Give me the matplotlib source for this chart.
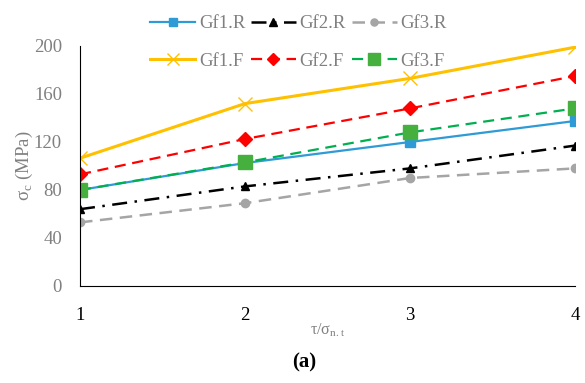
import matplotlib
matplotlib.use("Agg")
import matplotlib.pyplot as plt

## -- data
ratio = [1, 2, 3, 4]
gf1_r = [80, 102.5, 120, 137.5]
gf2_r = [64, 83, 98, 117]
gf3_r = [53, 69, 90, 98]
gf1_f = [106.5, 152, 173, 199]
gf2_f = [93, 122.5, 148, 175]
gf3_f = [80, 103, 128, 148]

plt.rcParams['font.family'] = ['Liberation Serif', 'DejaVu Serif']
grey = '#808080'

fig = plt.figure(figsize=(5.85, 3.83), dpi=100)
ax = fig.add_axes([0.1368, 0.2533, 0.8462, 0.6266])

l1, = ax.plot(ratio, gf1_r, color='#2E9BD6', lw=1.6, marker='s', ms=6.5, label='Gf1.R')
l2, = ax.plot(ratio, gf2_r, color='black', lw=1.8, ls=(0, (6, 3, 1, 3)), marker='^', ms=6, label='Gf2.R')
l3, = ax.plot(ratio, gf3_r, color='#A5A5A5', lw=1.8, ls=(0, (5, 3)), marker='o', ms=6, label='Gf3.R')
l4, = ax.plot(ratio, gf1_f, color='#FFC000', lw=2.2, marker='x', ms=10, mew=1.0, label='Gf1.F')
l5, = ax.plot(ratio, gf2_f, color='#FF0000', lw=1.6, ls=(0, (5, 3)), marker='D', ms=7.5, label='Gf2.F')
l6, = ax.plot(ratio, gf3_f, color='#00B050', lw=1.6, ls=(0, (5, 3)), marker='s', ms=10,
              mfc='#45B03D', mec='#45B03D', label='Gf3.F')

ax.set_xlim(1, 4)
ax.set_ylim(0, 200)
ax.set_xticks(ratio)
ax.set_yticks(range(0, 201, 40))
ax.tick_params(length=0, labelsize=13.5)
ax.tick_params(axis='y', labelcolor=grey, pad=13)
ax.tick_params(axis='x', pad=15)
ax.spines['top'].set_visible(False)
ax.spines['right'].set_visible(False)

ax.set_ylabel(r'σ$_\mathregular{c}$ (MPa)', color=grey, fontsize=13.5, labelpad=-1)
ax.set_xlabel(r'τ/σ$_\mathregular{n.t}$', color=grey, fontsize=11.5, labelpad=-2)
fig.text(0.52, 0.04, '(a)', ha='center', fontsize=15, fontweight='bold')

# row-wise order for a 3-column legend
handles = [l1, l4, l2, l5, l3, l6]
fig.legend(handles=handles, loc='upper center', bbox_to_anchor=(0.51, 1.005), ncol=3,
           frameon=False, fontsize=13.5, labelcolor=grey, handlelength=2.4,
           columnspacing=0.3, handletextpad=0.2, labelspacing=1.1, numpoints=1,
           markerscale=0.85)

plt.savefig("out.png")
